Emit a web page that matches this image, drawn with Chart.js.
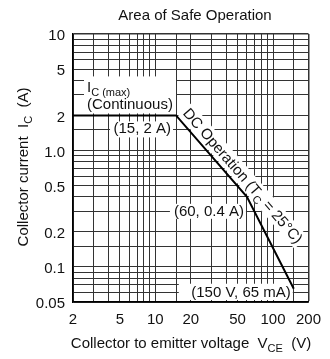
<!DOCTYPE html>
<html>
<head>
<meta charset="utf-8">
<script src="https://cdn.jsdelivr.net/npm/chart.js@4.4.1/dist/chart.umd.min.js"></script>
<style>
  html, body { margin: 0; padding: 0; background: #fff; }
  #wrap { width: 330px; height: 359px; }
</style>
</head>
<body>
<div id="wrap"><canvas id="soa" width="330" height="359"></canvas></div>
<script>
// ================== DATA ==================
// safe operating area boundary (knee points)
const vceKnees = [2, 15, 60, 150];      // V
const icKnees  = [2, 2, 0.4, 0.065];    // A

// grid lines and labelled ticks
const xGrid = [2, 3, 4, 5, 6, 7, 8, 9, 10, 15, 20, 30, 40, 50, 60, 70, 80, 90, 100, 150, 200];
const yGrid = [0.05, 0.06, 0.07, 0.08, 0.09, 0.1, 0.15, 0.2, 0.3, 0.4, 0.5, 0.6, 0.7, 0.8, 0.9,
               1, 1.5, 2, 3, 4, 5, 6, 7, 8, 9, 10];
const xTickLabels = [2, 5, 10, 20, 50, 100, 200];
const yTickLabels = [0.05, 0.1, 0.2, 0.5, 1, 2, 5, 10];

const FONT = '"Liberation Sans", Arial, Helvetica, sans-serif';
const INK = '#111';

// ================== TEXT HELPERS ==================
// runs = [{t, sub}], sub runs are smaller and dropped a little
function setFont(ctx, sub) { ctx.font = (sub ? 11 : 15) + 'px ' + FONT; }
function runsWidth(ctx, runs) {
  let w = 0;
  runs.forEach(r => { setFont(ctx, r.sub); w += ctx.measureText(r.t).width; });
  return w;
}
function drawRuns(ctx, runs, x, y, align) {
  const w = runsWidth(ctx, runs);
  let cx = align === 'center' ? x - w / 2 : (align === 'right' ? x - w : x);
  ctx.textAlign = 'left';
  ctx.textBaseline = 'alphabetic';
  ctx.fillStyle = INK;
  runs.forEach(r => {
    setFont(ctx, r.sub);
    ctx.fillText(r.t, cx, r.sub ? y + 4 : y);
    cx += ctx.measureText(r.t).width;
  });
  return w;
}
function whiteBox(ctx, x0, y0, x1, y1) {
  ctx.fillStyle = '#fff';
  ctx.fillRect(x0, y0, x1 - x0, y1 - y0);
}

// ================== ANNOTATIONS ==================
const notesPlugin = {
  id: 'notes',
  beforeDatasetsDraw(chart) {
    const { ctx, scales: { x, y }, chartArea: a } = chart;
    const px = v => x.getPixelForValue(v);
    const py = v => y.getPixelForValue(v);
    ctx.save();

    // I_C(max) (Continuous)
    const y2 = py(icKnees[0]);
    whiteBox(ctx, a.left + 11, y2 - 39, a.left + 103, y2 - 2);
    drawRuns(ctx, [{ t: 'I' }, { t: 'C (max)', sub: true }], a.left + 14, y2 - 23, 'left');
    drawRuns(ctx, [{ t: '(Continuous)' }], a.left + 14, y2 - 6, 'left');

    // (15, 2 A)
    const k1x = px(vceKnees[1]), k1y = py(icKnees[1]);
    whiteBox(ctx, k1x - 66, k1y + 6, k1x - 3, k1y + 22);
    drawRuns(ctx, [{ t: '(15, 2 A)' }], k1x - 5, k1y + 18, 'right');

    // (60, 0.4 A)
    const k2x = px(vceKnees[2]), k2y = py(icKnees[2]);
    whiteBox(ctx, k2x - 77, k2y + 7, k2x - 1, k2y + 22);
    drawRuns(ctx, [{ t: '(60, 0.4 A)' }], k2x - 3, k2y + 19, 'right');

    // (150 V, 65 mA)
    const k3x = px(vceKnees[3]), k3y = py(icKnees[3]);
    whiteBox(ctx, k3x - 115, k3y - 5, k3x - 1, a.bottom - 2);
    drawRuns(ctx, [{ t: '(150 V, 65 mA)' }], k3x - 3, k3y + 8, 'right');

    // DC Operation (Tc = 25°C), along the slope
    const dcRuns = [{ t: 'DC Operation (T' }, { t: 'C', sub: true }, { t: ' = 25°C)' }];
    ctx.translate(k2x - 4, k2y - 21);
    ctx.rotate(49 * Math.PI / 180);
    const w = runsWidth(ctx, dcRuns);
    whiteBox(ctx, -w / 2 - 2, -9, w / 2 + 2, 9);
    drawRuns(ctx, dcRuns, 0, 5, 'center');
    ctx.restore();
  },
  afterDraw(chart) {
    const { ctx, chartArea: a } = chart;
    ctx.save();
    // chart title
    drawRuns(ctx, [{ t: 'Area of Safe Operation' }], 195, 20, 'center');
    // x axis title
    drawRuns(ctx, [{ t: 'Collector to emitter voltage  V' }, { t: 'CE', sub: true }, { t: '  (V)' }],
      191, 348, 'center');
    // y axis title
    ctx.translate(28, (a.top + a.bottom) / 2 - 1);
    ctx.rotate(-Math.PI / 2);
    drawRuns(ctx, [{ t: 'Collector current  I' }, { t: 'C', sub: true }, { t: '  (A)' }], 0, 0, 'center');
    ctx.restore();
  }
};

// ================== CHART ==================
const edgeWidth = (c, edge) => (c.tick && c.tick.value === edge ? 1.5 : 1);

new Chart(document.getElementById('soa'), {
  type: 'line',
  data: {
    datasets: [{
      data: vceKnees.map((v, i) => ({ x: v, y: icKnees[i] })),
      borderColor: '#000',
      borderWidth: 2,
      pointRadius: 0,
      tension: 0,
      fill: false
    }]
  },
  options: {
    responsive: false,
    animation: false,
    layout: { padding: { top: 34, right: 12, left: 0, bottom: 0 } },
    plugins: { legend: { display: false }, tooltip: { enabled: false } },
    scales: {
      x: {
        type: 'logarithmic', min: 2, max: 200,
        afterBuildTicks: s => { s.ticks = xGrid.map(v => ({ value: v })); },
        afterFit: s => { s.height = 57; },
        ticks: {
          autoSkip: false, maxRotation: 0, padding: 9, color: INK,
          font: { family: FONT, size: 15 },
          callback: v => (xTickLabels.includes(v) ? String(v) : '')
        },
        grid: { color: '#333', lineWidth: c => edgeWidth(c, 200), drawTicks: false },
        border: { color: '#000', width: 1.5 }
      },
      y: {
        type: 'logarithmic', min: 0.05, max: 10,
        afterBuildTicks: s => { s.ticks = yGrid.map(v => ({ value: v })); },
        afterFit: s => { s.width = 73; },
        ticks: {
          autoSkip: false, padding: 8, color: INK, labelOffset: 2,
          font: { family: FONT, size: 15 },
          callback: v => (yTickLabels.includes(v) ? (v === 1 ? '1.0' : String(v)) : '')
        },
        grid: { color: '#333', lineWidth: c => edgeWidth(c, 10), drawTicks: false },
        border: { color: '#000', width: 1.5 }
      }
    }
  },
  plugins: [notesPlugin]
});
</script>
</body>
</html>
